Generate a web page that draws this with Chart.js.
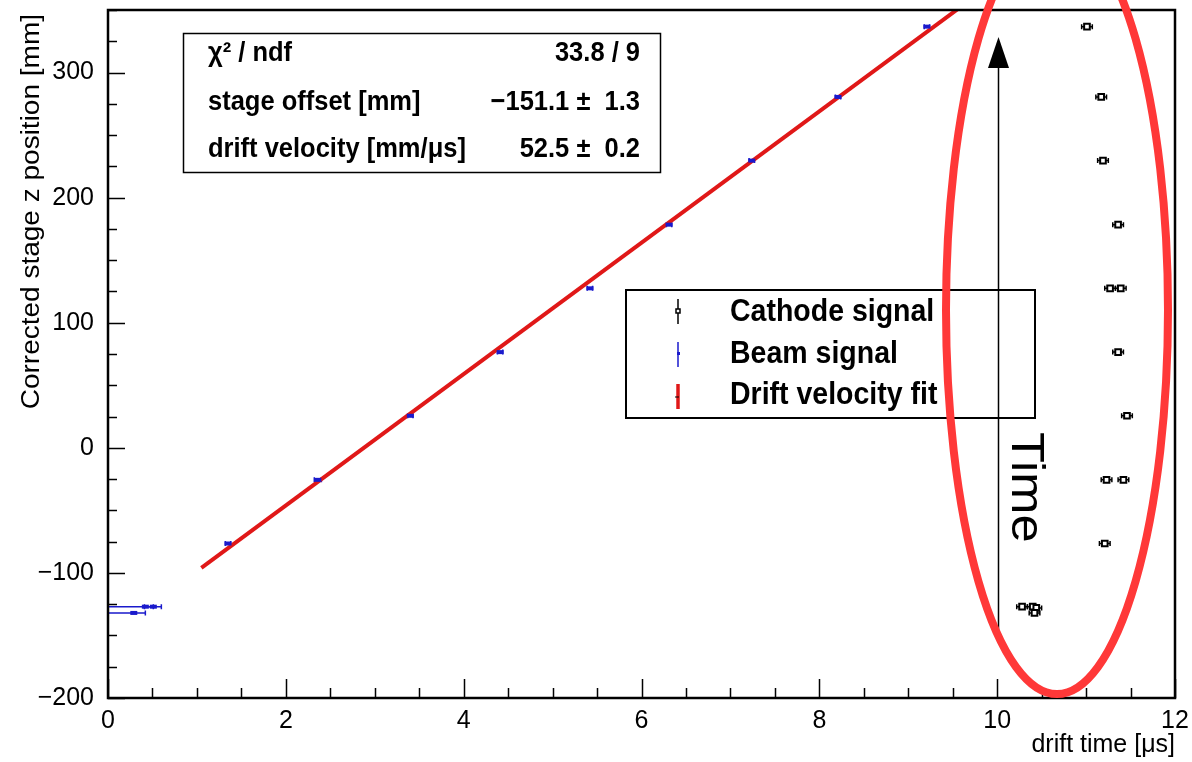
<!DOCTYPE html>
<html>
<head>
<meta charset="utf-8">
<script src="https://cdn.jsdelivr.net/npm/chart.js@4.4.0/dist/chart.umd.min.js"></script>
<style>
  html, body { margin: 0; padding: 0; background: #fff; }
</style>
</head>
<body>
<canvas id="chart" width="1192" height="762"></canvas>
<script>
// drift time [us] and stage z [mm]
const beamT   = [1.35, 2.36, 3.40, 4.41, 5.42, 6.31, 7.24, 8.21, 9.21, 0.29, 0.42, 0.51];
const beamZ   = [-76.5, -25.6, 25.6, 76.5, 127.5, 178.4, 229.6, 280.5, 336.7, -132, -127, -127];
const beamLo  = [0.03, 0.04, 0.03, 0.03, 0.03, 0.03, 0.03, 0.03, 0.03, 0.29, 0.42, 0.10];
const beamHi  = [0.03, 0.04, 0.03, 0.03, 0.03, 0.03, 0.03, 0.03, 0.03, 0.13, 0.09, 0.09];

const cathT   = [11.01, 11.17, 11.19, 11.36, 11.27, 11.39, 11.36, 11.46, 11.23, 11.42, 11.21, 10.28, 10.40, 10.44, 10.42];
const cathZ   = [336.7, 280.5, 229.6, 178.4, 127.5, 127.5, 76.5, 25.6, -25.6, -25.6, -76.5, -127, -127, -128, -132];
const cathErr = [0.06, 0.06, 0.06, 0.06, 0.06, 0.06, 0.06, 0.06, 0.06, 0.06, 0.06, 0.06, 0.06, 0.06, 0.06];

const fitT = [1.05, 9.6];
const fitZ = [-96, 353];

const xTicks = [0, 2, 4, 6, 8, 10, 12];
const yTicks = [-200, -100, 0, 100, 200, 300];

const statRows = [
  ['\u03c7\u00b2 / ndf', '33.8 / 9'],
  ['stage offset [mm]', '\u2212151.1 \u00b1  1.3'],
  ['drift velocity [mm/\u03bcs]', '52.5 \u00b1  0.2']
];

const yTitle = 'Corrected stage z position [mm]';

const FONT = '"Liberation Sans", Arial, Helvetica, sans-serif';
Chart.defaults.font.family = FONT;
Chart.defaults.color = '#000';

const toMinus = v => String(v).replace('-', '\u2212');

// text a bit taller than wide, like the picture
function tallText(ctx, text, x, y, sy) {
  ctx.save();
  ctx.translate(x, y);
  ctx.scale(1, sy);
  ctx.fillText(text, 0, 0);
  ctx.restore();
}

// horizontal error bars, drawn under the markers
const errorBars = {
  id: 'errorBars',
  beforeDatasetsDraw(chart) {
    const { ctx, chartArea: a, scales: { x, y } } = chart;
    ctx.save();
    ctx.beginPath();
    ctx.rect(a.left, a.top, a.right - a.left, a.bottom - a.top);
    ctx.clip();
    chart.data.datasets.forEach(ds => {
      if (!ds.errColor) return;
      ctx.strokeStyle = ds.errColor;
      ctx.lineWidth = 1.5;
      ds.data.forEach(p => {
        const py = y.getPixelForValue(p.y);
        const x0 = x.getPixelForValue(p.x - p.lo);
        const x1 = x.getPixelForValue(p.x + p.hi);
        ctx.beginPath();
        ctx.moveTo(x0, py); ctx.lineTo(x1, py);
        ctx.moveTo(x0, py - 2.5); ctx.lineTo(x0, py + 2.5);
        ctx.moveTo(x1, py - 2.5); ctx.lineTo(x1, py + 2.5);
        ctx.stroke();
      });
    });
    ctx.restore();
  }
};

// ROOT-like frame, inward ticks, stats box, legend and the hand annotations
const decorations = {
  id: 'decorations',
  afterDraw(chart) {
    const { ctx, chartArea: a, scales: { x, y } } = chart;
    ctx.save();

    // ticks
    ctx.strokeStyle = '#000';
    ctx.lineWidth = 1.5;
    ctx.beginPath();
    for (let v = -200; v <= 350; v += 25) {
      const py = Math.round(y.getPixelForValue(v)) + 0.5;
      const len = v % 100 === 0 ? 17 : 9;
      ctx.moveTo(a.left, py); ctx.lineTo(a.left + len, py);
    }
    for (let v = 0; v <= 12; v += 0.5) {
      const px = Math.round(x.getPixelForValue(v)) + 0.5;
      const len = v % 2 === 0 ? 19 : 10;
      ctx.moveTo(px, a.bottom); ctx.lineTo(px, a.bottom - len);
    }
    ctx.stroke();

    // frame
    ctx.lineWidth = 2.5;
    ctx.strokeRect(a.left, a.top, a.right - a.left, a.bottom - a.top);

    // y axis title, rotated and stretched along its length
    ctx.save();
    ctx.fillStyle = '#000';
    ctx.font = '25px ' + FONT;
    ctx.textAlign = 'right';
    ctx.textBaseline = 'alphabetic';
    ctx.translate(39, 14);
    ctx.rotate(-Math.PI / 2);
    ctx.scale(1.12, 1);
    ctx.fillText(yTitle, 0, 0);
    ctx.restore();

    // stats box
    ctx.fillStyle = '#fff';
    ctx.fillRect(183, 33, 477, 139);
    ctx.lineWidth = 1.5;
    ctx.strokeRect(183.5, 33.5, 477, 139);
    ctx.fillStyle = '#000';
    ctx.font = 'bold 25.5px ' + FONT;
    const rowY = [61, 110, 157];
    statRows.forEach((r, i) => {
      ctx.textAlign = 'left';
      tallText(ctx, r[0], 208, rowY[i], 1.1);
      ctx.textAlign = 'right';
      tallText(ctx, r[1], 640, rowY[i], 1.1);
    });

    // legend
    ctx.fillStyle = '#fff';
    ctx.fillRect(626, 290, 409, 128);
    ctx.lineWidth = 2;
    ctx.strokeStyle = '#000';
    ctx.strokeRect(626, 290, 409, 128);
    ctx.fillStyle = '#000';
    ctx.font = 'bold 28.5px ' + FONT;
    ctx.textAlign = 'left';
    const labels = chart.data.datasets.map(d => d.label);
    const legY = [321, 363, 404];
    labels.forEach((l, i) => tallText(ctx, l, 730, legY[i], 1.08));
    // cathode symbol
    ctx.lineWidth = 1.5;
    ctx.beginPath(); ctx.moveTo(678, 299); ctx.lineTo(678, 324); ctx.stroke();
    ctx.fillStyle = '#fff';
    ctx.fillRect(676, 309, 4, 4);
    ctx.strokeRect(676, 309, 4, 4);
    // beam symbol
    ctx.strokeStyle = '#1a1acc';
    ctx.beginPath(); ctx.moveTo(678, 342); ctx.lineTo(678, 367); ctx.stroke();
    ctx.fillStyle = '#1a1acc';
    ctx.fillRect(677, 352, 3, 3);
    // fit symbol
    ctx.strokeStyle = '#e01818';
    ctx.lineWidth = 3.5;
    ctx.beginPath(); ctx.moveTo(678, 384); ctx.lineTo(678, 409); ctx.stroke();
    ctx.strokeStyle = '#000';
    ctx.lineWidth = 1;
    ctx.beginPath(); ctx.moveTo(675, 397); ctx.lineTo(679, 397); ctx.stroke();

    // time arrow
    ctx.strokeStyle = '#000';
    ctx.lineWidth = 1.5;
    ctx.beginPath(); ctx.moveTo(998.5, 640); ctx.lineTo(998.5, 66); ctx.stroke();
    ctx.fillStyle = '#000';
    ctx.beginPath();
    ctx.moveTo(998.5, 37); ctx.lineTo(988, 68); ctx.lineTo(1009, 68); ctx.closePath();
    ctx.fill();

    ctx.save();
    ctx.translate(1012, 432);
    ctx.rotate(Math.PI / 2);
    ctx.scale(1.1, 1);
    ctx.font = '46px ' + FONT;
    ctx.textAlign = 'left';
    ctx.textBaseline = 'alphabetic';
    ctx.fillText('Time', 0, 0);
    ctx.restore();

    // red ellipse
    ctx.strokeStyle = '#ff3838';
    ctx.lineWidth = 8;
    ctx.beginPath();
    ctx.ellipse(1057, 310, 111, 384, 0, 0, Math.PI * 2);
    ctx.stroke();

    ctx.restore();
  }
};

new Chart(document.getElementById('chart'), {
  type: 'scatter',
  data: {
    datasets: [
      {
        label: 'Cathode signal',
        data: cathT.map((t, i) => ({ x: t, y: cathZ[i], lo: cathErr[i], hi: cathErr[i] })),
        pointStyle: 'rect',
        pointRadius: 4,
        pointBackgroundColor: '#fff',
        pointBorderColor: '#000',
        pointBorderWidth: 2,
        errColor: '#000',
        order: 1
      },
      {
        label: 'Beam signal',
        data: beamT.map((t, i) => ({ x: t, y: beamZ[i], lo: beamLo[i], hi: beamHi[i] })),
        pointStyle: 'line',
        pointRadius: 3.5,
        pointBorderColor: '#1a1acc',
        pointBorderWidth: 4,
        errColor: '#1a1acc',
        order: 2
      },
      {
        label: 'Drift velocity fit',
        data: fitT.map((t, i) => ({ x: t, y: fitZ[i] })),
        showLine: true,
        borderColor: '#e01818',
        borderWidth: 4,
        pointRadius: 0,
        order: 3
      }
    ]
  },
  options: {
    responsive: false,
    animation: false,
    devicePixelRatio: 1,
    layout: { padding: { top: 10, right: 17, left: 0, bottom: 0 } },
    plugins: {
      legend: { display: false },
      tooltip: { enabled: false }
    },
    scales: {
      x: {
        type: 'linear',
        min: 0,
        max: 12,
        grid: { display: false },
        border: { display: false },
        ticks: {
          font: { size: 25 },
          color: '#000',
          padding: 0,
          maxRotation: 0,
          autoSkip: false,
          callback: toMinus
        },
        title: {
          display: true,
          text: 'drift time [\u03bcs]',
          align: 'end',
          font: { size: 25 },
          color: '#000',
          padding: { top: 0, bottom: 2 }
        },
        afterBuildTicks: s => { s.ticks = xTicks.map(v => ({ value: v })); },
        afterFit: s => { s.height = 64; s.paddingLeft = 0; s.paddingRight = 0; }
      },
      y: {
        type: 'linear',
        min: -200,
        max: 350,
        grid: { display: false },
        border: { display: false },
        ticks: {
          font: { size: 25 },
          color: '#000',
          padding: 6,
          autoSkip: false,
          callback: toMinus
        },
        afterBuildTicks: s => { s.ticks = yTicks.map(v => ({ value: v })); },
        afterFit: s => { s.width = 108; s.paddingTop = 0; s.paddingBottom = 0; }
      }
    }
  },
  plugins: [errorBars, decorations]
});
</script>
</body>
</html>
